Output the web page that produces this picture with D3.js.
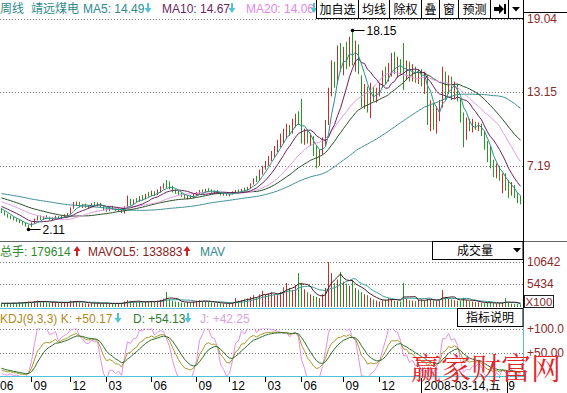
<!DOCTYPE html>
<html><head><meta charset="utf-8">
<script src="https://cdn.jsdelivr.net/npm/d3@7/dist/d3.min.js"></script>
<style>
html,body{margin:0;padding:0;background:#fff;overflow:hidden;}
svg{display:block;}
text{font-family:"Liberation Sans",Arial,"Noto Sans CJK SC",sans-serif;font-size:12px;}
</style></head><body>
<svg id="chart" width="567" height="393"></svg>
<script>
// ---------- data (weekly, 靖远煤电) ----------
const priorClose = [5.2,5.4,5.3,5.5,5.4,5.2,5.1,5.3,5.4,5.6,5.5,5.3,5.2,5.4,5.3,5.1,5.2,5.4,5.5,5.3,5.2,5.3,5.4,5.3,5.1,5.2,5.3,5.4,5.3,5.2,
 5.3,5.4,5.2,5.3,5.1,5.2,5.3,5.2,5.1,5.0,
 5.0,4.9,4.9,4.8,4.7,4.8,4.6,4.5,4.5,4.4,
 4.3,4.2,4.1,4.0,3.95,3.9,3.85,3.8,3.72];
const open = [3.70,3.45,3.28,3.08,3.00,2.85,2.78,2.62,2.50,2.35,
 2.30,2.60,2.90,3.05,2.92,3.08,2.95,2.88,3.00,3.10,
 2.95,3.15,3.22,3.32,3.80,4.10,4.25,3.95,4.00,3.90,
 3.98,4.12,4.05,4.18,3.92,3.68,3.60,3.82,3.72,3.62,
 3.70,3.48,3.88,4.50,4.15,4.40,4.35,4.68,4.55,4.88,
 4.80,5.10,4.90,5.20,5.45,5.65,5.60,5.45,5.15,5.05,
 4.95,4.78,4.62,4.70,4.65,4.90,5.00,5.18,5.10,5.28,
 5.20,5.05,5.15,5.00,4.90,4.95,4.85,4.92,5.10,5.20,
 5.12,5.30,5.25,5.45,5.75,6.10,6.05,6.80,7.10,7.50,
 7.85,8.20,8.60,9.00,9.50,9.80,10.30,9.90,10.80,11.20,
 10.80,9.40,9.90,9.20,9.50,8.20,7.40,8.30,9.20,10.60,
 13.20,15.30,14.20,16.50,15.60,16.40,15.60,17.20,15.80,16.80,
 14.40,12.20,13.40,11.80,13.50,12.80,13.30,13.70,14.70,14.20,
 15.20,15.90,15.00,15.60,14.80,14.20,15.40,14.50,15.10,14.30,
 14.80,13.90,14.40,11.00,12.10,10.50,11.60,12.20,14.60,13.20,
 14.10,12.90,13.70,12.50,11.00,9.40,10.80,10.20,10.70,10.30,
 10.50,9.80,8.70,7.80,7.40,6.60,7.10,5.40,6.30,5.40,
 4.90,5.60,4.80,4.40];
const high = [3.78,3.55,3.35,3.20,3.10,2.98,2.88,2.75,2.60,2.45,
 2.65,2.95,3.15,3.20,3.12,3.22,3.10,3.05,3.18,3.15,
 3.20,3.30,3.40,3.85,4.30,4.32,4.30,4.10,4.15,4.05,
 4.20,4.28,4.25,4.22,4.00,3.85,3.90,3.98,3.85,3.80,
 3.78,3.95,4.80,4.55,4.50,4.60,4.75,4.85,4.95,5.10,
 5.20,5.15,5.30,5.55,5.80,6.06,5.95,5.60,5.30,5.20,
 5.05,4.90,4.80,4.85,4.95,5.10,5.25,5.30,5.35,5.40,
 5.30,5.22,5.25,5.10,5.05,5.02,5.00,5.15,5.25,5.30,
 5.35,5.45,5.50,5.80,6.20,6.40,6.90,7.20,7.60,8.00,
 8.40,8.80,9.30,9.80,10.20,10.60,10.50,11.00,11.40,11.60,
 12.60,10.20,10.10,9.80,9.60,8.80,8.50,9.50,10.90,13.50,
 15.70,15.60,16.90,17.10,16.80,17.20,17.60,18.15,17.30,17.00,
 14.50,13.80,13.60,13.90,13.60,13.50,13.90,14.90,15.20,15.50,
 16.30,16.40,16.00,15.80,17.10,15.70,15.60,15.40,15.20,15.00,
 15.00,14.80,14.50,12.50,12.30,12.00,12.50,15.20,14.80,14.50,
 14.40,14.00,13.80,12.60,11.50,11.10,11.00,11.00,10.75,10.70,
 10.60,10.00,9.20,8.80,7.70,7.40,7.20,6.60,6.60,6.06,
 5.90,5.65,5.00,4.80];
const low = [3.40,3.20,3.02,2.90,2.80,2.70,2.58,2.45,2.30,2.11,
 2.28,2.55,2.80,2.85,2.85,2.90,2.82,2.80,2.92,2.88,
 2.90,3.02,3.10,3.30,3.75,3.98,3.85,3.80,3.82,3.75,
 3.90,3.95,3.92,3.85,3.60,3.50,3.55,3.65,3.55,3.50,
 3.40,3.35,3.85,4.00,4.05,4.25,4.30,4.45,4.50,4.70,
 4.75,4.80,4.85,5.05,5.35,5.40,5.30,5.05,4.95,4.85,
 4.70,4.55,4.50,4.55,4.60,4.80,4.92,5.00,5.05,5.10,
 5.00,4.95,4.95,4.82,4.80,4.78,4.75,4.88,5.00,5.05,
 5.08,5.15,5.20,5.40,5.70,5.90,6.00,6.50,6.90,7.20,
 7.60,7.90,8.30,8.70,9.00,9.40,9.60,9.80,10.30,10.50,
 9.00,8.90,9.00,8.80,8.00,7.00,7.20,8.10,8.80,10.50,
 12.80,13.50,13.80,14.80,14.50,15.00,15.20,15.30,14.80,14.60,
 11.90,11.80,11.50,11.05,12.40,12.30,12.80,13.50,13.80,14.00,
 14.40,14.60,14.30,14.50,13.30,14.10,14.00,14.00,13.90,13.80,
 13.60,13.00,10.50,10.00,10.10,9.80,10.80,11.90,12.50,13.00,
 12.50,12.60,12.40,10.70,8.70,9.30,10.00,9.90,10.10,10.00,
 9.60,8.50,7.50,7.00,6.30,6.20,6.00,5.00,5.20,4.60,
 4.80,4.60,4.20,4.10];
const close = [3.45,3.25,3.08,3.00,2.85,2.78,2.62,2.50,2.35,2.30,
 2.60,2.90,3.05,2.92,3.08,2.95,2.88,3.00,3.10,2.95,
 3.15,3.22,3.32,3.80,4.20,4.25,3.95,4.00,3.90,3.98,
 4.12,4.05,4.18,3.92,3.68,3.60,3.82,3.72,3.62,3.70,
 3.48,3.88,4.50,4.15,4.40,4.35,4.68,4.55,4.88,4.80,
 5.10,4.90,5.20,5.45,5.65,5.60,5.45,5.15,5.05,4.95,
 4.78,4.62,4.70,4.65,4.90,5.00,5.18,5.10,5.28,5.20,
 5.05,5.15,5.00,4.90,4.95,4.85,4.92,5.10,5.20,5.12,
 5.30,5.25,5.45,5.75,6.10,6.05,6.80,7.10,7.50,7.85,
 8.20,8.60,9.00,9.50,9.80,10.30,9.90,10.80,11.20,10.80,
 9.40,9.90,9.20,9.50,8.20,7.40,8.30,9.20,10.60,13.20,
 15.30,14.20,16.50,15.60,16.40,15.60,17.20,15.80,16.80,15.00,
 12.20,13.40,11.80,13.50,12.80,13.30,13.70,14.70,14.20,15.20,
 15.90,15.00,15.60,14.80,14.20,15.40,14.50,15.10,14.30,14.80,
 13.90,14.40,11.00,12.10,10.50,11.60,12.20,14.60,13.20,14.10,
 12.90,13.70,12.70,11.00,9.40,10.80,10.20,10.70,10.30,10.50,
 9.80,8.70,7.80,7.40,6.60,7.10,6.20,6.30,5.40,4.90,
 5.60,4.80,4.40,4.30];
const volume = [900,800,950,850,1000,900,1100,1000,1200,1300,
 1100,1400,1500,1200,1300,1100,1000,1200,1100,900,
 1000,1100,1200,1500,1400,1300,1200,1000,900,800,
 900,1000,900,800,900,1000,800,700,800,900,
 1000,1300,1600,1400,1300,1200,1300,1100,1200,1300,
 1400,1200,1500,1700,2000,3550,1800,1500,1300,1200,
 1100,1000,1200,1100,1300,1500,1600,1400,1300,1200,
 1100,1000,900,900,800,850,900,1000,2100,1500,
 1600,1800,2000,2400,2800,2200,3000,3800,3000,3200,
 3500,3000,2800,3600,4700,5700,4500,4000,5200,8000,
 5700,4200,3500,3000,2600,2400,2100,3000,4500,10650,
 8000,5700,6500,8300,6000,5500,5000,6400,4500,4000,
 3500,3000,2800,2200,1800,1500,1300,1600,1800,2100,
 1900,1500,1400,1300,5700,2000,1600,1500,1400,1700,
 1800,1500,2000,1800,1600,1400,1700,4000,2400,2000,
 1800,1600,1500,1400,2200,1600,1400,1300,1200,1100,
 1000,900,1000,1100,900,800,900,1000,2100,1000,
 800,700,800,600];
const kdjSeed = [15, 20];
const maPeriods = [60, 30, 20, 10, 5];
const volMaPeriods = [10, 5];
const priceTicks = [19.04, 13.15, 7.19];
const volTicks = [10642, 5434];
const kdjTicks = [100, 50];
const kdjTickLabels = ["+100.0", "+50.00"];
const monthTickIdx = [0, 10, 23, 35, 50, 65, 76, 88, 100, 114, 126, 138, 153, 166];
const monthTickLabels = ["06","09","12","03","06","09","12","03","06","09","12","03","06","09"];
const cursorIdx = 140;
const cursorLabel = "2008-03-14,五";

// ---------- setup ----------
const svg = d3.select("#chart");
svg.append("rect").attr("width",567).attr("height",393).attr("fill","#fff");
const N = close.length;
const plotR = 523;
const UP = "#c0302a", DOWN = "#249a24", CYAN = "#50c4d4", AXC = "#8c2a2a";
const maColors = {60:"#3f8f98",30:"#274f27",20:"#e39be3",10:"#6b1f5e",5:"#2b8f8a"};

const x = d3.scaleBand().domain(d3.range(N)).range([0, N*3]);
const cx = i => x(i) + x.bandwidth()/2;
const yP = d3.scaleLinear().domain([7.19, 19.04]).range([166, 19]);
const yV = d3.scaleLinear().domain([0, 10642]).range([307, 262]);
const yK = d3.scaleLinear().domain([0, 100]).range([377, 329]);

const defs = svg.append("defs");
defs.append("clipPath").attr("id","clipP").append("rect").attr("x",0).attr("y",19).attr("width",plotR).attr("height",222);
defs.append("clipPath").attr("id","clipV").append("rect").attr("x",0).attr("y",258).attr("width",plotR).attr("height",50);
defs.append("clipPath").attr("id","clipK").append("rect").attr("x",0).attr("y",328.5).attr("width",plotR).attr("height",48.5);

// ---------- grid ----------
const grid = svg.append("g").attr("stroke","#7a7a7a").attr("stroke-dasharray","1,2").attr("stroke-width",1);
function hgrid(scale, vals){ vals.forEach(v=>{ const yy=Math.round(scale(v))+0.5; grid.append("line").attr("x1",0).attr("x2",plotR).attr("y1",yy).attr("y2",yy);}); }
hgrid(yP, priceTicks); hgrid(yV, volTicks); hgrid(yK, kdjTicks);

// ---------- price panel ----------
const pg = svg.append("g").attr("clip-path","url(#clipP)");
pg.selectAll("line.c").data(d3.range(N)).join("line")
  .attr("x1",cx).attr("x2",cx)
  .attr("y1",i=>yP(high[i])).attr("y2",i=>yP(low[i]))
  .attr("stroke",i=>close[i]>=open[i]?UP:DOWN).attr("stroke-width",1);
const allClose = priorClose.concat(close);
const P = priorClose.length;
maPeriods.forEach(n=>{
  const vals = d3.range(N).map(i=>d3.mean(allClose.slice(Math.max(0,i+P-n+1), i+P+1)));
  pg.append("path").datum(vals).attr("fill","none").attr("stroke",maColors[n]).attr("stroke-width",1)
    .attr("d", d3.line().x((d,i)=>cx(i)).y(d=>yP(d)));
});
// high / low markers
const hiI = d3.maxIndex(high), loI = d3.minIndex(low);
[[hiI, high[hiI]],[loI, low[loI]]].forEach(([i,v])=>{
  const px = cx(i), py = Math.round(yP(v))+0.5;
  svg.append("circle").attr("cx",px).attr("cy",py).attr("r",1.8).attr("fill","#000");
  svg.append("line").attr("x1",px).attr("x2",px+12).attr("y1",py).attr("y2",py).attr("stroke","#000");
  svg.append("text").attr("x",px+14).attr("y",py+4.5).attr("fill","#000").text(d3.format(".2f")(v));
});

// ---------- volume panel ----------
const vg = svg.append("g").attr("clip-path","url(#clipV)");
vg.selectAll("line.v").data(d3.range(N)).join("line")
  .attr("x1",cx).attr("x2",cx).attr("y1",yV(0)).attr("y2",i=>yV(volume[i]))
  .attr("stroke",i=>close[i]>=open[i]?UP:DOWN).attr("stroke-width",1);
const volMaColors = {10:"#3a9a9a",5:"#3b1c22"};
volMaPeriods.forEach(n=>{
  const vals = d3.range(N).map(i=>d3.mean(volume.slice(Math.max(0,i-n+1), i+1)));
  vg.append("path").datum(vals).attr("fill","none").attr("stroke",volMaColors[n]).attr("stroke-width",1)
    .attr("d", d3.line().x((d,i)=>cx(i)).y(d=>yV(d)));
});

// ---------- KDJ panel ----------
let K = kdjSeed[0], D = kdjSeed[1];
const kv=[], dv=[], jv=[];
for (let i=0;i<N;i++){
  const lo = d3.min(low.slice(Math.max(0,i-8), i+1));
  const hi = d3.max(high.slice(Math.max(0,i-8), i+1));
  const rsv = hi>lo ? (close[i]-lo)/(hi-lo)*100 : 50;
  K = (2*K + rsv)/3; D = (2*D + K)/3;
  kv.push(K); dv.push(D); jv.push(3*K-2*D);
}
const kg = svg.append("g").attr("clip-path","url(#clipK)");
const kline = d3.line().x((d,i)=>cx(i)).y(d=>yK(d));
[[jv,"#e38fe3"],[kv,"#a8982e"],[dv,"#2b6b2b"]].forEach(([arr,c])=>{
  kg.append("path").datum(arr).attr("fill","none").attr("stroke",c).attr("stroke-width",1).attr("d",kline);
});

// ---------- frame lines ----------
svg.append("line").attr("x1",0).attr("x2",567).attr("y1",241.5).attr("y2",241.5).attr("stroke","#666");
svg.append("line").attr("x1",0).attr("x2",plotR).attr("y1",308.5).attr("y2",308.5).attr("stroke",CYAN);
svg.append("line").attr("x1",0).attr("x2",plotR).attr("y1",376.5).attr("y2",376.5).attr("stroke",CYAN);
svg.append("line").attr("x1",plotR+0.5).attr("x2",plotR+0.5).attr("y1",12).attr("y2",308).attr("stroke","#000");
svg.append("line").attr("x1",plotR+0.5).attr("x2",plotR+0.5).attr("y1",308).attr("y2",377).attr("stroke",CYAN);
svg.append("line").attr("x1",plotR).attr("x2",567).attr("y1",12.5).attr("y2",12.5).attr("stroke","#000");

// ---------- right axes ----------
function rAxis(scale, vals, fmt){
  const g = svg.append("g").attr("transform",`translate(${plotR},0)`)
    .call(d3.axisRight(scale).tickValues(vals).tickSize(0).tickPadding(4).tickFormat(fmt));
  g.select(".domain").remove();
  g.selectAll("text").attr("fill",AXC).style("font-size","12px").style("font-family",'"Liberation Sans",Arial,sans-serif');
}
rAxis(yP, priceTicks, d=>d.toFixed(2));
rAxis(yV, volTicks, d=>String(d));
rAxis(yK, kdjTicks, (d,k)=>kdjTickLabels[k]);
svg.append("rect").attr("x",524.5).attr("y",295.5).attr("width",29).attr("height",12).attr("fill","#fff").attr("stroke","#222");
svg.append("text").attr("x",525.5).attr("y",306).attr("fill",AXC).style("font-size","11.5px").text("X100");

// ---------- bottom axis (labels hidden under the cursor date box are skipped) ----------
const dl = cx(cursorIdx), dBoxW = 86;
const visTicks = monthTickIdx.map((d,k)=>k).filter(k=>{ const tx=cx(monthTickIdx[k]); return tx < dl-12 || tx > dl+dBoxW-10; });
const xa = svg.append("g").attr("transform","translate(0,377)")
  .call(d3.axisBottom(x).tickValues(visTicks.map(k=>monthTickIdx[k])).tickSize(5)
    .tickFormat(d=>monthTickLabels[monthTickIdx.indexOf(d)]));
xa.select(".domain").remove();
xa.selectAll("line").attr("stroke","#000");
xa.selectAll("text").attr("text-anchor","start").attr("x",2).attr("y",4).attr("fill","#000")
  .style("font-size","12px").style("font-family",'"Liberation Sans",Arial,sans-serif');
xa.selectAll(".tick").filter((d,k)=>k===0).select("line").remove();
xa.selectAll(".tick").filter((d,k)=>k===0).select("text").attr("x",-1.5);
svg.append("rect").attr("x",dl).attr("y",377.5).attr("width",dBoxW).attr("height",16).attr("fill","#fff");
svg.append("line").attr("x1",dl).attr("x2",dl).attr("y1",378).attr("y2",393).attr("stroke","#000");
svg.append("line").attr("x1",dl+dBoxW).attr("x2",dl+dBoxW).attr("y1",378).attr("y2",393).attr("stroke","#000");
svg.append("text").attr("x",dl+2.5).attr("y",389.5).attr("fill","#000").text(cursorLabel);

// ---------- arrows ----------
function arrow(xc, yc, up, color){
  const p = up
    ? `M${xc-1},${yc+5} V${yc} H${xc-3.5} L${xc},${yc-5} L${xc+3.5},${yc} H${xc+1} V${yc+5} Z`
    : `M${xc-1},${yc-5} V${yc} H${xc-3.5} L${xc},${yc+5} L${xc+3.5},${yc} H${xc+1} V${yc-5} Z`;
  svg.append("path").attr("d",p).attr("fill",color);
}
function label(t, xx, yy, c){ svg.append("text").attr("x",xx).attr("y",yy).attr("fill",c).text(t); }

// title row
label("周线", 0, 13, "#2f8a8a");
label("靖远煤电", 31, 13, "#2f8a8a");
label("MA5: 14.49", 83, 13, "#2f8a8a"); arrow(148, 8, false, CYAN);
label("MA10: 14.67", 162, 13, "#6b1f5e"); arrow(232, 8, false, CYAN);
label("MA20: 14.06", 246, 13, "#e08ae0"); arrow(314, 8, false, CYAN);

// buttons
const btnEdges = [316,358,389,421,439,458,490,508,523];
const btnLabels = ["加自选","均线","除权","叠","窗","预测"];
const bg = svg.append("g");
for (let k=0;k<btnEdges.length-1;k++){
  bg.append("rect").attr("x",btnEdges[k]+0.5).attr("y",-0.5).attr("width",btnEdges[k+1]-btnEdges[k]).attr("height",19)
    .attr("fill","#fff").attr("stroke","#000");
  if (k<btnLabels.length) bg.append("text").attr("x",(btnEdges[k]+btnEdges[k+1])/2+0.5).attr("y",13.5)
    .attr("text-anchor","middle").attr("fill","#000").style("font-family",'"Noto Sans CJK SC",sans-serif').text(btnLabels[k]);
}
bg.append("path").attr("d","M494,7 H499 V4 L504,9 L499,14 V11 H494 Z").attr("fill","#000");
bg.append("rect").attr("x",504).attr("y",4).attr("width",2).attr("height",10).attr("fill","#000");
bg.append("path").attr("d","M512,7 H520 L516,11.5 Z").attr("fill","#000");

// volume title + box
label("总手: 179614", 0, 256, "#2e8a2e"); arrow(77, 251, true, "#d02020");
label("MAVOL5: 133883", 88, 256, "#8b1c1c"); arrow(187, 251, true, "#d02020");
label("MAV", 200, 256, "#2f8a8a");
svg.append("rect").attr("x",432.5).attr("y",241.5).attr("width",90.5).attr("height",18).attr("fill","#fff").attr("stroke","#000");
svg.append("text").attr("x",475).attr("y",255).attr("text-anchor","middle").attr("fill","#000").style("font-family",'"Noto Sans CJK SC",sans-serif').text("成交量");
svg.append("path").attr("d","M513,248 H521 L517,252.5 Z").attr("fill","#000");

// KDJ title + box
label("KDJ(9,3,3) K: +50.17", 0, 323, "#b08a28"); arrow(118, 318, false, CYAN);
label("D: +54.13", 133, 323, "#2e7e2e"); arrow(188, 318, false, CYAN);
label("J: +42.25", 200, 323, "#d9a0dc");
svg.append("rect").attr("x",457.5).attr("y",308.5).attr("width",65.5).attr("height",18).attr("fill","#fff").attr("stroke","#000");
svg.append("text").attr("x",490).attr("y",322).attr("text-anchor","middle").attr("fill","#000").style("font-family",'"Noto Sans CJK SC",sans-serif').text("指标说明");

// watermark
svg.append("text").attr("x",411).attr("y",379).attr("fill","#e3262b")
  .style("font-family",'"Noto Serif CJK SC","Noto Sans CJK SC",serif').style("font-size","30px").text("赢家财富网");
</script>
</body></html>
